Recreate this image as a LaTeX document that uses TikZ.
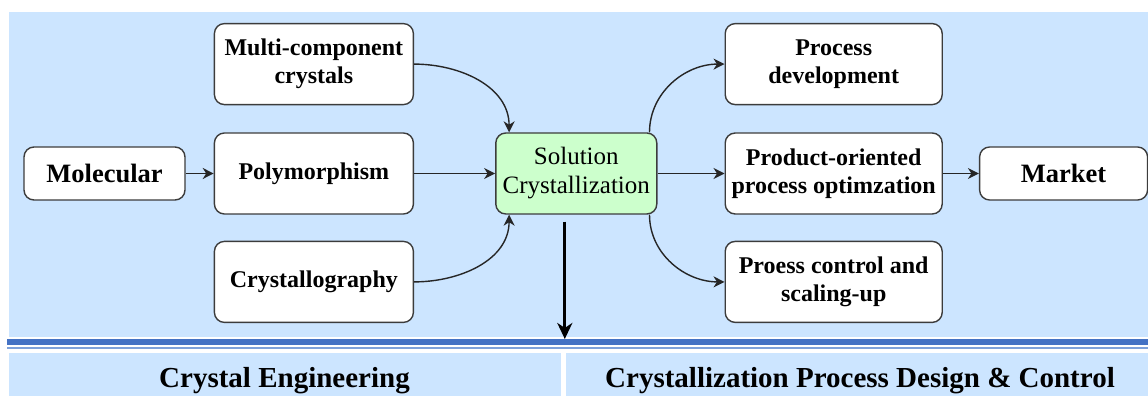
\documentclass[tikz,border=0pt]{standalone}
\usepackage{fontspec}
\setmainfont{Liberation Serif}
\usetikzlibrary{arrows.meta,positioning,calc}
\definecolor{panelblue}{HTML}{CCE5FF}
\definecolor{barblue}{HTML}{4472C4}
\definecolor{thinblue}{HTML}{7EA1DA}
\definecolor{solgreen}{HTML}{CCFFCC}
\definecolor{edgegray}{HTML}{3C3C3C}
\providecommand{\boxfont}{\fontsize{24}{28}\selectfont\bfseries}
\tikzset{
  cbox/.style   ={draw=edgegray, rounded corners=10pt, line width=1.4pt,
                  fill=white, align=center, inner sep=2pt, minimum height=81pt,
                  font=\boxfont},
  cleft/.style  ={cbox, minimum width=199pt},
  cright/.style ={cbox, minimum width=217pt},
  cend/.style   ={cbox, minimum height=53pt,
                  font=\fontsize{26.5}{30}\selectfont\bfseries},
  csol/.style   ={cbox, fill=solgreen, minimum width=161pt,
                  font=\fontsize{25}{29}\selectfont},
  carrow/.style ={-{Stealth[length=11pt,width=11pt,inset=3.5pt]}, line width=1.4pt, draw=black!85},
  cdown/.style  ={-{Stealth[length=16pt,width=15pt,inset=5pt]}, line width=3pt, draw=black},
  cpanel/.style ={fill=panelblue},
  ctitle/.style ={anchor=base, font=\fontsize{29}{32}\selectfont\bfseries},
}
\begin{document}
\begin{tikzpicture}[x=1pt, y=1pt]
  \useasboundingbox (0,0) rectangle (1148,396);

  % ---- panels and separator ----
  \fill[cpanel] (9,59) rectangle (1148,384);
  \fill[barblue] (7,50.5) rectangle (1148,57);
  \fill[thinblue] (7,46.5) rectangle (1148,49);
  \fill[cpanel] (9,0) rectangle (560.5,43);
  \fill[cpanel] (565.5,0) rectangle (1148,43);

  % ---- (1) crystal engineering side ----
  \node[cend, minimum width=161pt] (molecular) at (104.5,222.5) {Molecular};
  \node[cleft, right=28pt of molecular] (poly) {Polymorphism};
  \node[cleft, above=27pt of poly] (multi) {Multi-component\\crystals};
  \node[cleft, below=26pt of poly] (cryst) {Crystallography};

  % ---- (2) solution crystallization ----
  \node[csol, right=81pt of poly] (sol) {Solution\\Crystallization};

  % ---- (3) process side ----
  \node[cright, right=67pt of sol] (prodopt) {Product-oriented\\process optimzation};
  \node[cright, above=27pt of prodopt] (procdev) {Process\\development};
  \node[cright, below=26pt of prodopt] (procctl) {Proess control and\\scaling-up};
  \node[cend, minimum width=168pt, right=36pt of prodopt] (market) {Market};

  % ---- bottom titles ----
  \node[ctitle] (tce) at (284.5,9) {Crystal Engineering};
  \node[ctitle] (tcpd) at (860,9) {Crystallization Process Design \& Control};

  % ---- arrows ----
  \draw[carrow] (molecular) -- (poly);
  \draw[carrow] (poly) -- (sol);
  \draw[carrow] (sol) -- (prodopt);
  \draw[carrow] (prodopt) -- (market);

  \draw[carrow] (multi.east) to[out=0,in=90] ([xshift=14pt]sol.north west);
  \draw[carrow] (cryst.east) to[out=0,in=-90] ([xshift=14pt]sol.south west);
  \draw[carrow] ([xshift=-8pt]sol.north east) to[out=90,in=180] (procdev.west);
  \draw[carrow] ([xshift=-8pt]sol.south east) to[out=-90,in=180] (procctl.west);

  \coordinate (drop) at ([xshift=-11.5pt,yshift=-7pt]sol.south);
  \coordinate (barhit) at (drop |- 0,57);
  \draw[cdown] (drop) -- (barhit);

\end{tikzpicture}
\end{document}
